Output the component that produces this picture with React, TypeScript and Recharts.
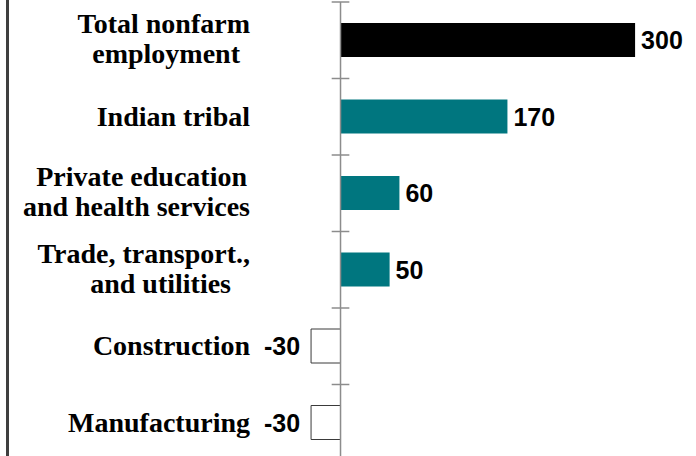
import React from "react";
import { BarChart, Bar, XAxis, YAxis, Cell, ReferenceLine, LabelList } from "recharts";

const categories = [
  "Total nonfarm employment",
  "Indian tribal",
  "Private education and health services",
  "Trade, transport., and utilities",
  "Construction",
  "Manufacturing",
];
const categoryLines = [
  ["Total nonfarm", "employment"],
  ["Indian tribal"],
  ["Private education", "and health services"],
  ["Trade, transport.,", "and utilities"],
  ["Construction"],
  ["Manufacturing"],
];
const values = [300, 170, 60, 50, -30, -30];

const data = categories.map((c, i) => ({ category: c, value: values[i] }));

const lineOffsets: Record<string, number> = {
  employment: -10,
  "Private education": -3,
  "and utilities": -19,
};

const TEAL = "#00767f";
const AXIS_GRAY = "#8c8c8c";

function barFill(i: number, v: number) {
  if (v < 0) return "#ffffff";
  return i === 0 ? "#000000" : TEAL;
}

function CategoryTick(props: any) {
  const { x, y, payload } = props;
  const idx = categories.indexOf(payload.value);
  const lines = idx >= 0 ? categoryLines[idx] : [String(payload.value)];
  const lh = 30;
  const first = lines.length === 1 ? 9 : -7;
  return (
    <g>
      {lines.map((l, k) => (
        <text
          key={k}
          x={x + (lineOffsets[l] ?? 0)}
          y={y + first + k * lh}
          textAnchor="end"
          fontFamily="'Liberation Serif', serif"
          fontWeight="bold"
          fontSize={28}
          fill="#000"
        >
          {l}
        </text>
      ))}
    </g>
  );
}

function ValueLabel(props: any) {
  const { x, y, width, height, value } = props;
  const left = Math.min(x, x + width);
  const right = Math.max(x, x + width);
  const neg = value < 0;
  return (
    <text
      x={neg ? left - 11 : right + 6}
      y={y + height / 2}
      dy="0.36em"
      textAnchor={neg ? "end" : "start"}
      fontFamily="'Liberation Sans', Arial, sans-serif"
      fontWeight="bold"
      fontSize={25}
      fill="#000"
    >
      {value}
    </text>
  );
}

export default function App() {
  return (
    <div
      style={{
        position: "absolute",
        left: 0,
        top: 0,
        width: 696,
        height: 456,
        overflow: "hidden",
        background: "#fff",
      }}
    >
      <div
        style={{
          position: "absolute",
          left: 6,
          top: 0,
          width: 3,
          height: 456,
          background: "#3f3f3f",
        }}
      />
      <BarChart
        width={696}
        height={461}
        data={data}
        layout="vertical"
        margin={{ top: 2, right: 2, bottom: 0, left: 0 }}
        barSize={34}
      >
        <XAxis type="number" domain={[-82, 360]} hide allowDataOverflow />
        <YAxis
          type="category"
          dataKey="category"
          width={260}
          tickLine={false}
          axisLine={false}
          tickSize={0}
          tickMargin={10}
          interval={0}
          tick={<CategoryTick />}
        />
        <Bar dataKey="value" isAnimationActive={false}>
          {data.map((d, i) => (
            <Cell
              key={i}
              fill={barFill(i, d.value)}
              stroke={d.value < 0 ? "#3a3a3a" : "none"}
              strokeWidth={1}
            />
          ))}
          <LabelList dataKey="value" content={<ValueLabel />} />
        </Bar>
        <ReferenceLine x={0} stroke={AXIS_GRAY} strokeWidth={1.5} />
        {categories.map((c) => (
          <ReferenceLine
            key={c}
            position="start"
            segment={[
              { x: -9, y: c },
              { x: 9, y: c },
            ]}
            stroke={AXIS_GRAY}
            strokeWidth={1.5}
          />
        ))}
      </BarChart>
    </div>
  );
}
